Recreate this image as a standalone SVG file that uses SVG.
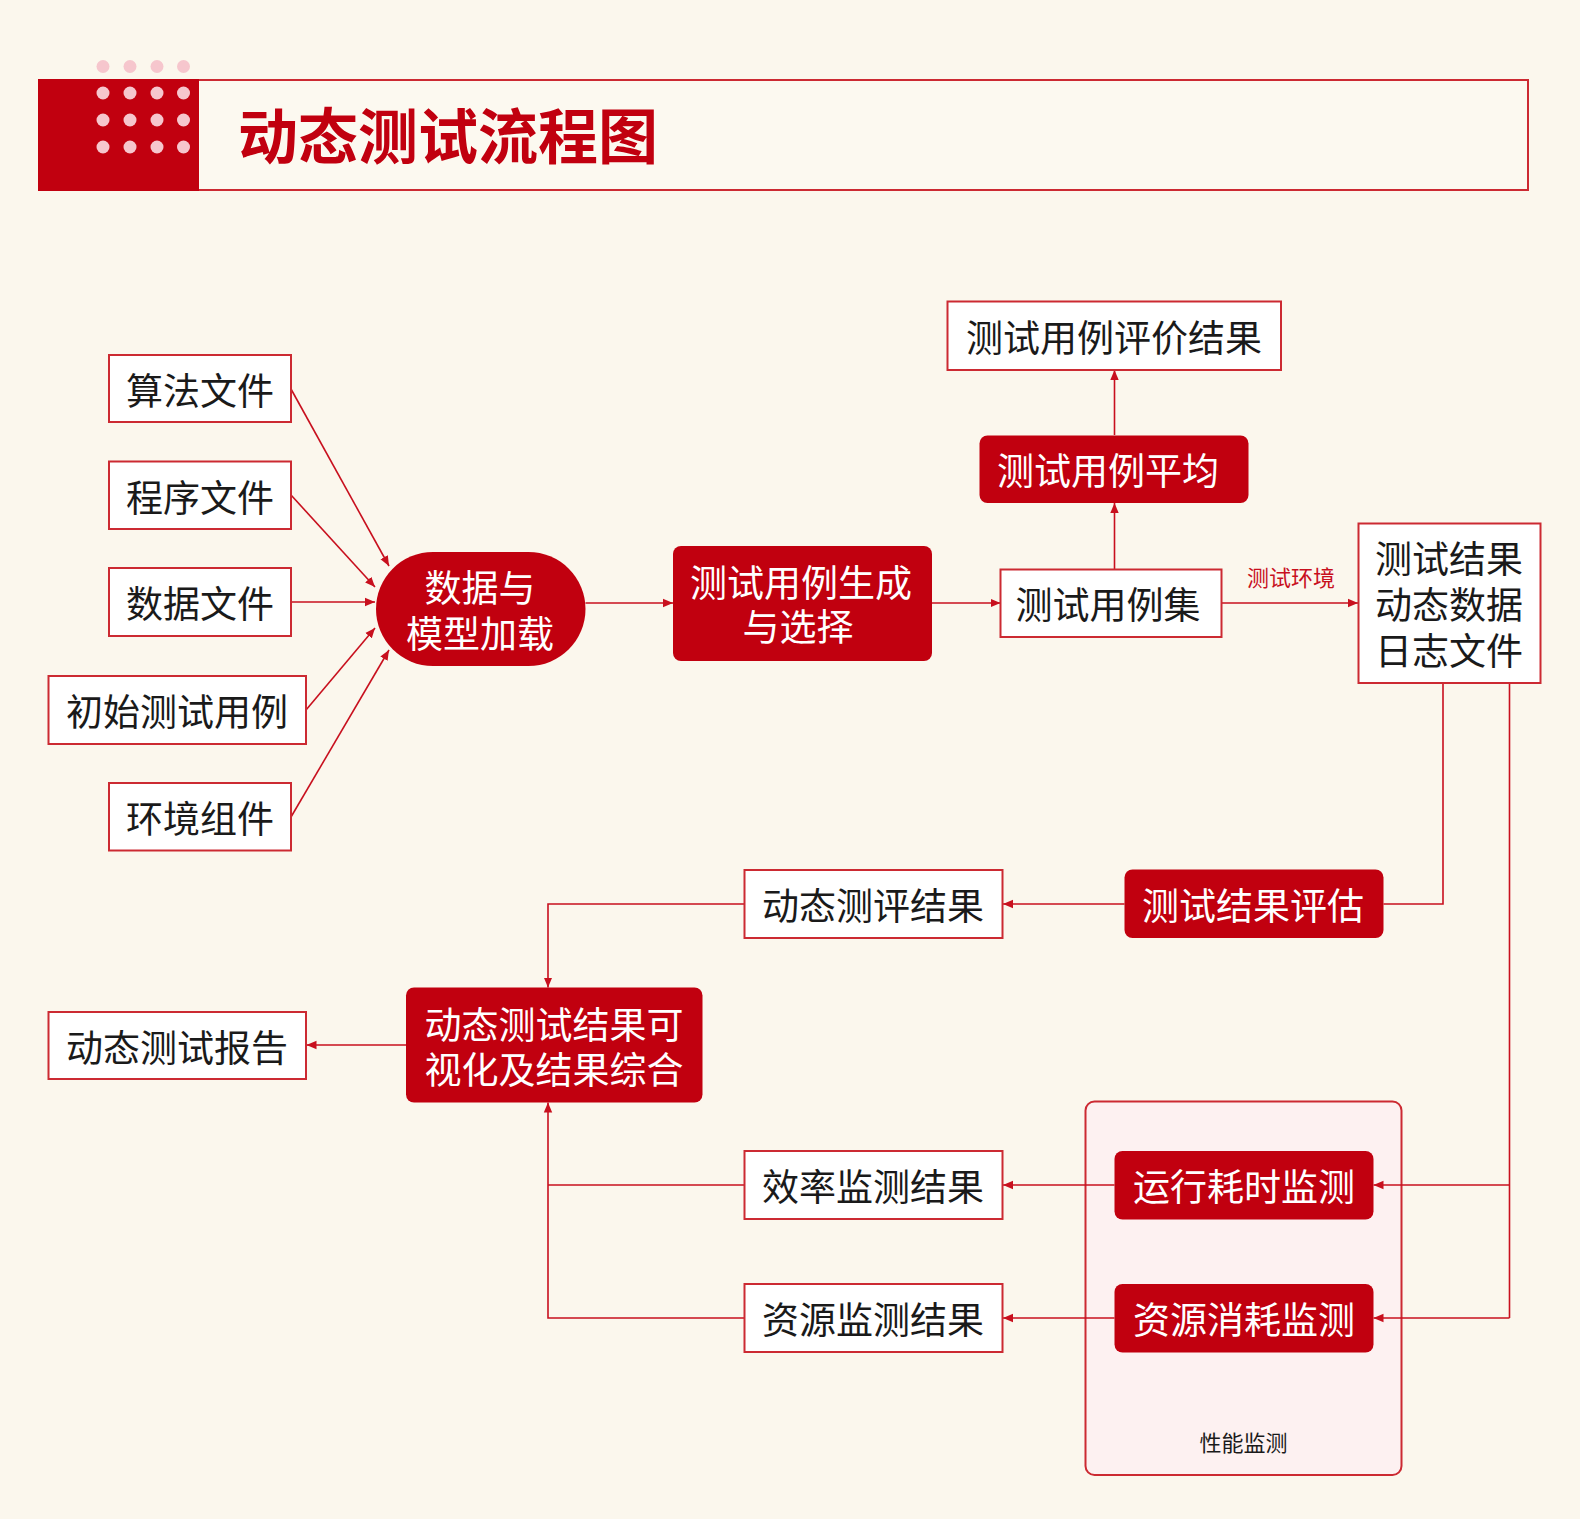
<svg xmlns="http://www.w3.org/2000/svg" width="1580" height="1519" viewBox="0 0 1580 1519">
<defs>
<style>
.bg{fill:#fbf7ed}
.wbox{fill:#ffffff;stroke:#cc2a32;stroke-width:2}
.rbox{fill:#c1000f;stroke:none}
.t{font-family:"Noto Sans CJK SC","Noto Sans",sans-serif;font-size:37px;text-anchor:middle;dominant-baseline:central}
.tb{fill:#1a1a1a}
.tw{fill:#ffffff}
.line{fill:none;stroke:#c8101e;stroke-width:1.6}
.dot{fill:#f6c6cd}
</style>
<marker id="ah" viewBox="0 0 10 10" refX="10" refY="5" markerWidth="10" markerHeight="10" markerUnits="userSpaceOnUse" orient="auto">
<path d="M0,0.8 L10,5 L0,9.2 z" fill="#c8101e"/>
</marker>
</defs>
<rect class="bg" x="0" y="0" width="1580" height="1519"/>

<g id="header">
<rect x="39" y="80" width="1489" height="110" fill="#fcf9f0" stroke="#cc2a32" stroke-width="2"/>
<rect x="38" y="79" width="161" height="112" fill="#c1000f"/>
<circle class="dot" cx="103" cy="66.5" r="6.5"/><circle class="dot" cx="130" cy="66.5" r="6.5"/><circle class="dot" cx="157" cy="66.5" r="6.5"/><circle class="dot" cx="183.5" cy="66.5" r="6.5"/>
<circle class="dot" cx="103" cy="93" r="6.5"/><circle class="dot" cx="130" cy="93" r="6.5"/><circle class="dot" cx="157" cy="93" r="6.5"/><circle class="dot" cx="183.5" cy="93" r="6.5"/>
<circle class="dot" cx="103" cy="120" r="6.5"/><circle class="dot" cx="130" cy="120" r="6.5"/><circle class="dot" cx="157" cy="120" r="6.5"/><circle class="dot" cx="183.5" cy="120" r="6.5"/>
<circle class="dot" cx="103" cy="147" r="6.5"/><circle class="dot" cx="130" cy="147" r="6.5"/><circle class="dot" cx="157" cy="147" r="6.5"/><circle class="dot" cx="183.5" cy="147" r="6.5"/>
<text x="238" y="132" font-family="'Noto Sans CJK SC','Noto Sans',sans-serif" font-size="60" font-weight="bold" fill="#c1000f" dominant-baseline="central">动态测试流程图</text>
</g>

<g id="group-perf">
<rect x="1085.5" y="1101.5" width="316" height="373.5" rx="9" fill="#fdf1f1" stroke="#cc2a32" stroke-width="2"/>
<text class="t tb" x="1243.5" y="1441" style="font-size:22px">性能监测</text>
</g>

<g id="connectors">
<line class="line" x1="291" y1="389" x2="389" y2="566" marker-end="url(#ah)"/>
<line class="line" x1="291" y1="495" x2="375" y2="587" marker-end="url(#ah)"/>
<line class="line" x1="291" y1="602" x2="375" y2="602" marker-end="url(#ah)"/>
<line class="line" x1="306" y1="710" x2="375" y2="628" marker-end="url(#ah)"/>
<line class="line" x1="291" y1="817" x2="389" y2="650" marker-end="url(#ah)"/>
<line class="line" x1="585.5" y1="603" x2="673" y2="603" marker-end="url(#ah)"/>
<line class="line" x1="932" y1="603" x2="1000.5" y2="603" marker-end="url(#ah)"/>
<line class="line" x1="1114.5" y1="569" x2="1114.5" y2="503" marker-end="url(#ah)"/>
<line class="line" x1="1114.5" y1="435" x2="1114.5" y2="370" marker-end="url(#ah)"/>
<line class="line" x1="1221.5" y1="603" x2="1358" y2="603" marker-end="url(#ah)"/>
<text class="t" x="1291" y="575.5" style="font-size:22px;fill:#c8101e">测试环境</text>
<polyline class="line" points="1443,683 1443,904 1383.5,904"/>
<line class="line" x1="1124.5" y1="904" x2="1003" y2="904" marker-end="url(#ah)"/>
<polyline class="line" points="744.5,904 548,904 548,987.5" marker-end="url(#ah)"/>
<line class="line" x1="406" y1="1045" x2="306.5" y2="1045" marker-end="url(#ah)"/>
<polyline class="line" points="1509.5,683 1509.5,1318"/>
<line class="line" x1="1509.5" y1="1185" x2="1373.5" y2="1185" marker-end="url(#ah)"/>
<line class="line" x1="1509.5" y1="1318" x2="1373.5" y2="1318" marker-end="url(#ah)"/>
<line class="line" x1="1114.5" y1="1185" x2="1003" y2="1185" marker-end="url(#ah)"/>
<line class="line" x1="1114.5" y1="1318" x2="1003" y2="1318" marker-end="url(#ah)"/>
<line class="line" x1="744.5" y1="1185" x2="548" y2="1185"/>
<polyline class="line" points="744.5,1318 548,1318 548,1102.5" marker-end="url(#ah)"/>
</g>

<g id="n-suanfa"><rect class="wbox" x="109" y="355" width="182" height="67"/><text class="t tb" x="200" y="389">算法文件</text></g>
<g id="n-chengxu"><rect class="wbox" x="109" y="461.5" width="182" height="67.5"/><text class="t tb" x="200" y="495.5">程序文件</text></g>
<g id="n-shuju"><rect class="wbox" x="109" y="568" width="182" height="68"/><text class="t tb" x="200" y="602">数据文件</text></g>
<g id="n-chushi"><rect class="wbox" x="48.5" y="676" width="257.5" height="68"/><text class="t tb" x="177" y="710">初始测试用例</text></g>
<g id="n-huanjing"><rect class="wbox" x="109" y="783" width="182" height="67.5"/><text class="t tb" x="200" y="817">环境组件</text></g>

<g id="n-load"><rect class="rbox" x="376" y="552" width="209.5" height="114" rx="57"/><text class="t tw"><tspan x="480" y="586">数据与</tspan><tspan x="480" y="632">模型加载</tspan></text></g>
<g id="n-gen"><rect class="rbox" x="673" y="546" width="259" height="115" rx="8"/><text class="t tw"><tspan x="801" y="580.5">测试用例生成</tspan><tspan x="798" y="625">与选择</tspan></text></g>
<g id="n-caseset"><rect class="wbox" x="1000.5" y="569.5" width="221" height="67.5"/><text class="t tb" x="1108" y="603">测试用例集</text></g>
<g id="n-avg"><rect class="rbox" x="979.5" y="435.5" width="269" height="67.5" rx="8"/><text class="t tw" x="1108" y="469">测试用例平均</text></g>
<g id="n-eval"><rect class="wbox" x="947.5" y="301.5" width="333.5" height="68.5"/><text class="t tb" x="1114" y="335.5">测试用例评价结果</text></g>
<g id="n-result"><rect class="wbox" x="1358.5" y="523.5" width="182" height="159.5"/><text class="t tb"><tspan x="1449" y="557">测试结果</tspan><tspan x="1449" y="603">动态数据</tspan><tspan x="1449" y="649">日志文件</tspan></text></g>
<g id="n-assess"><rect class="rbox" x="1124.5" y="869.5" width="259" height="68.5" rx="8"/><text class="t tw" x="1253" y="904">测试结果评估</text></g>
<g id="n-dyneval"><rect class="wbox" x="744.5" y="870" width="258" height="68"/><text class="t tb" x="873" y="904">动态测评结果</text></g>
<g id="n-vis"><rect class="rbox" x="406" y="987.5" width="296.5" height="115" rx="8"/><text class="t tw"><tspan x="554" y="1023">动态测试结果可</tspan><tspan x="554" y="1068">视化及结果综合</tspan></text></g>
<g id="n-report"><rect class="wbox" x="48.5" y="1012" width="257.5" height="67"/><text class="t tb" x="177" y="1045.5">动态测试报告</text></g>
<g id="n-runtime"><rect class="rbox" x="1114.5" y="1151" width="259" height="68.5" rx="8"/><text class="t tw" x="1244" y="1185">运行耗时监测</text></g>
<g id="n-resmon"><rect class="rbox" x="1114.5" y="1284" width="259" height="68.5" rx="8"/><text class="t tw" x="1244" y="1318">资源消耗监测</text></g>
<g id="n-effres"><rect class="wbox" x="744.5" y="1151" width="258" height="68"/><text class="t tb" x="873" y="1185">效率监测结果</text></g>
<g id="n-resres"><rect class="wbox" x="744.5" y="1284" width="258" height="68"/><text class="t tb" x="873" y="1318">资源监测结果</text></g>
</svg>
